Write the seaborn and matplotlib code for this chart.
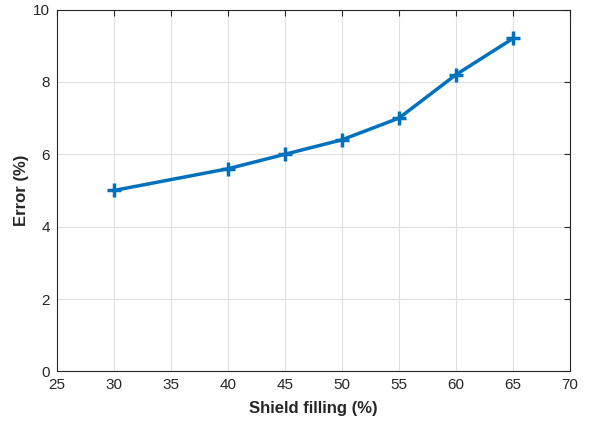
import pandas as pd
import matplotlib
matplotlib.use("Agg")
import matplotlib.pyplot as plt
import seaborn as sns

shield_filling = [30, 40, 45, 50, 55, 60, 65]
error_pct = [5.0, 5.6, 6.0, 6.4, 7.0, 8.2, 9.2]

df = pd.DataFrame({"Shield filling (%)": shield_filling, "Error (%)": error_pct})

sns.set_theme(style="whitegrid")
plt.rcParams["font.family"] = ["Liberation Sans", "DejaVu Sans"]

fig = plt.figure(figsize=(5.9, 4.23), dpi=100)
ax = fig.add_axes([0.0966, 0.122, 0.8695, 0.8555])

sns.lineplot(data=df, x="Shield filling (%)", y="Error (%)", ax=ax,
             color="#0072BD", linewidth=2.5)
ax.plot(shield_filling, error_pct, linestyle="none", marker="+",
        markersize=10, markeredgewidth=2.5, color="#0072BD")

ax.set_xlim(25, 70)
ax.set_ylim(0, 10)
ax.set_xticks(range(25, 71, 5))
ax.set_yticks(range(0, 11, 2))
ax.grid(True, color="#e0e0e0", linewidth=0.8)
for s in ax.spines.values():
    s.set_color("#262626")
    s.set_linewidth(0.8)
ax.tick_params(direction="in", length=4, width=0.8, colors="#262626",
               labelsize=11, top=True, right=True, labeltop=False, labelright=False,
               pad=5)
ax.set_xlabel("Shield filling (%)", fontsize=12, fontweight="bold", color="#262626",
              labelpad=6)
ax.set_ylabel("Error (%)", fontsize=12, fontweight="bold", color="#262626",
              labelpad=3)
ax.set_facecolor("white")

fig.savefig("out.png", dpi=100)
